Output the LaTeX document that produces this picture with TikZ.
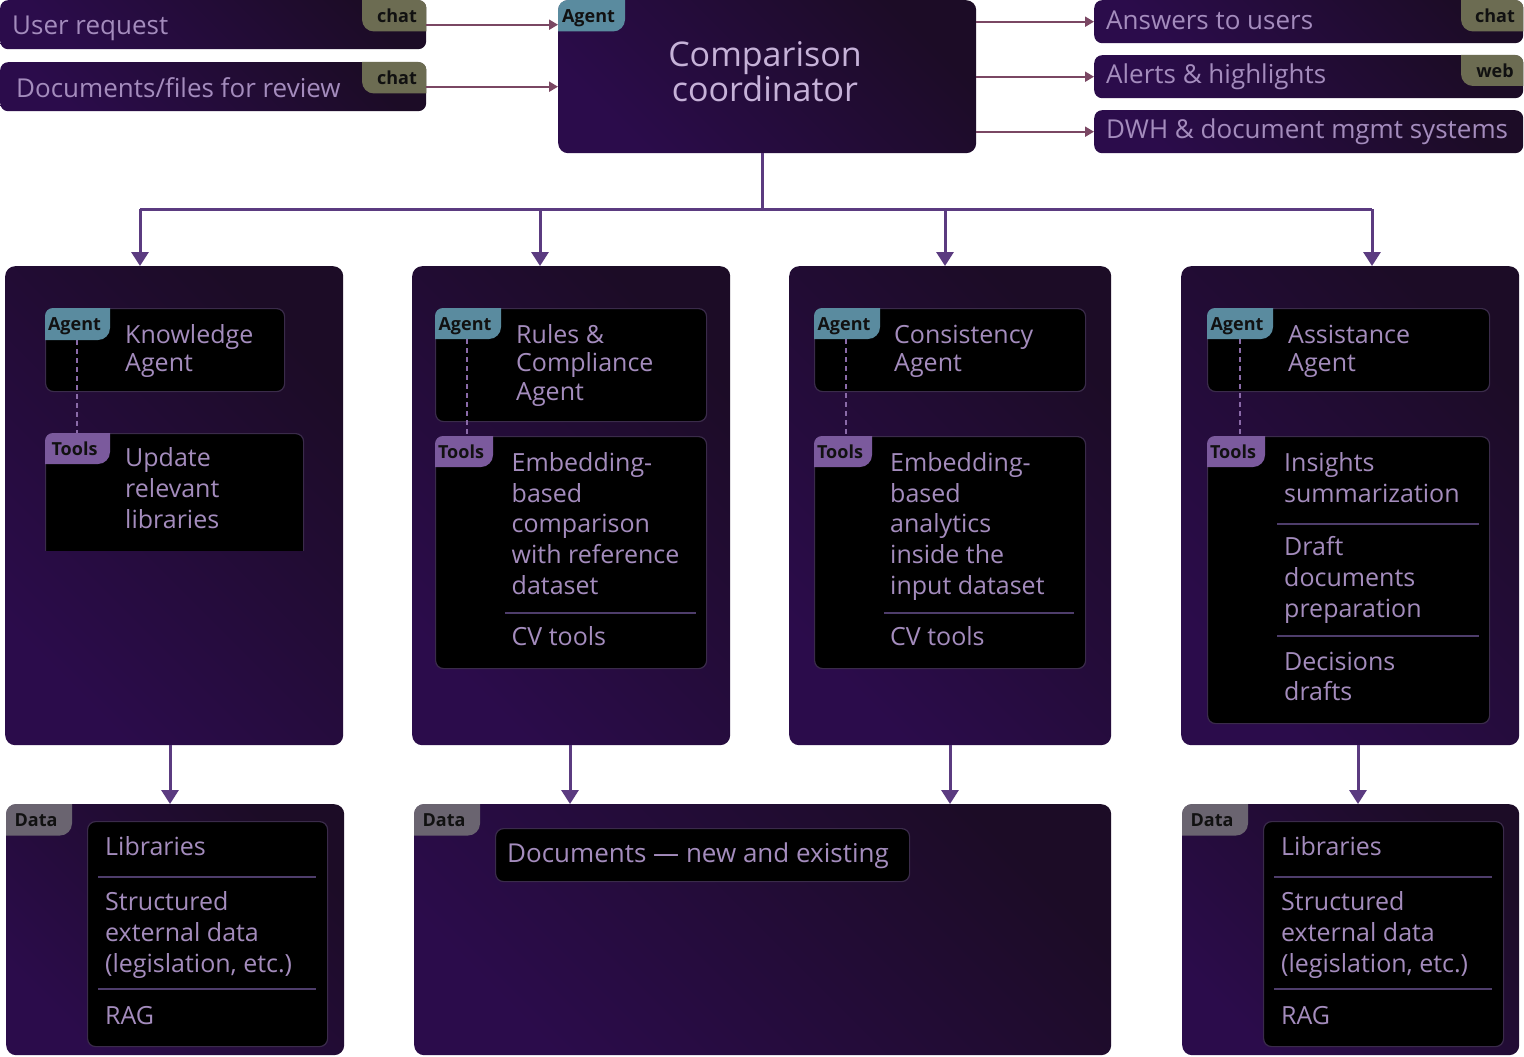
\documentclass[tikz,border=0pt]{standalone}
\usepackage{fontspec}
\setmainfont{Open Sans}
\usetikzlibrary{arrows.meta}
\definecolor{boxA}{HTML}{2B0C4B}
\definecolor{boxB}{HTML}{1C0C26}
\definecolor{txt}{HTML}{A48CBD}
\definecolor{txtlight}{HTML}{C6B2D8}
\definecolor{agentc}{HTML}{5A8B9F}
\definecolor{toolsc}{HTML}{7B5A9D}
\definecolor{chatc}{HTML}{6C6C52}
\definecolor{datac}{HTML}{6A6470}
\definecolor{ioarrowc}{HTML}{7A4763}
\definecolor{treec}{HTML}{5B3B80}
\definecolor{innerborder}{HTML}{3A2B4A}
\definecolor{sepc}{HTML}{4E3D6B}
\definecolor{dashc}{HTML}{8A6AA8}
\definecolor{tagtextc}{HTML}{111111}

\newcommand\mkbox[6]{\node[#6, anchor=north west, minimum width={(#4)-(#2)}, minimum height={(#5)-(#3)}] (#1) at (#2,#3) {};}
% NW tag: parent, radius, x0, y0, x1, y1, colour, text, name
\newcommand\tagnw[9]{%
  \begin{scope}
    \clip[rounded corners=#2] (#1.north west) rectangle (#1.south east);
    \fill[#7, rounded corners=12pt] ({#3-30},{#4-30}) rectangle (#5,#6);
  \end{scope}
  \node[tagtxt] (#9) at ({(#3+#5)/2-3},{#4+22.5}) {#8};}
% NE tag
\newcommand\tagne[9]{%
  \begin{scope}
    \clip[rounded corners=#2] (#1.north west) rectangle (#1.south east);
    \fill[#7, rounded corners=12pt] (#3,{#4-30}) rectangle ({#5+30},#6);
  \end{scope}
  \node[tagtxt] (#9) at ({(#3+#5)/2+3},{#4+22.5}) {#8};}

\tikzset{
  panel/.style={rounded corners=10pt, left color=boxA, right color=boxB, shading angle=135},
  iobox/.style={rounded corners=8pt, left color=boxA, right color=boxB, shading angle=135},
  inbox/.style={rounded corners=8pt, fill=black, draw=innerborder, line width=1.2pt},
  tagtxt/.style={anchor=base, inner sep=0pt, text=tagtextc, font=\fontsize{18}{20}\selectfont\bfseries},
  iotxt/.style={anchor=base west, inner sep=0pt, text=txt, font=\fontsize{26}{30}\selectfont},
  bodyA/.style={anchor=base west, inner sep=0pt, text=txt, align=left, font=\fontsize{25}{28.4}\selectfont},
  bodyT/.style={anchor=base west, inner sep=0pt, text=txt, align=left, font=\fontsize{25}{30.6}\selectfont},
  coordtxt/.style={anchor=base, inner sep=0pt, text=txtlight, align=center, font=\fontsize{34}{35}\selectfont},
  ioarr/.style={draw=ioarrowc, line width=2pt, -{Triangle[width=10pt,length=9pt]}},
  treeline/.style={draw=treec, line width=3pt},
  treearr/.style={draw=treec, line width=3pt, -{Triangle[width=17pt,length=14pt]}},
  dashl/.style={draw=dashc, line width=1.5pt, dash pattern=on 5pt off 4pt},
  sepl/.style={draw=sepc, line width=2pt},
}

\begin{document}
\begin{tikzpicture}[x=1pt, y=-1pt]
\useasboundingbox (0,0) rectangle (1524,1057);
\fill[white] (0,0) rectangle (1524,1057);

% (multi-line nodes: the base anchor is the baseline of the last line)

% ---------- inputs ----------
\mkbox{in1}{0}{0}{426}{49}{iobox}
\tagne{in1}{8pt}{362}{0}{426}{31.5}{chatc}{chat}{in1tag}
\node[iotxt] (in1t) at (12,35) {User request};
\mkbox{in2}{0}{62}{426}{111}{iobox}
\tagne{in2}{8pt}{362}{62}{426}{93.5}{chatc}{chat}{in2tag}
\node[iotxt] (in2t) at (16,97.3) {Documents/files for review};

% ---------- coordinator ----------
\mkbox{coord}{558}{0}{976}{153}{panel}
\tagnw{coord}{10pt}{558}{0}{625}{31.5}{agentc}{Agent}{coordtag}
\node[coordtxt] (coordt) at (765,101.7) {Comparison\\coordinator};

% ---------- outputs ----------
\mkbox{out1}{1094}{0}{1523}{43}{iobox}
\tagne{out1}{8pt}{1461}{0}{1523}{31.5}{chatc}{chat}{out1tag}
\node[iotxt] (out1t) at (1106,29.3) {Answers to users};
\mkbox{out2}{1094}{55}{1523}{98}{iobox}
\tagne{out2}{8pt}{1461}{55}{1523}{86}{chatc}{web}{out2tag}
\node[iotxt] (out2t) at (1106,84) {Alerts \& highlights};
\mkbox{out3}{1094}{110}{1523}{153}{iobox}
\node[iotxt] (out3t) at (1106,139) {DWH \& document mgmt systems};

\draw[ioarr] (in1.east) -- (in1.east -| coord.west);
\draw[ioarr] (in2.east) -- (in2.east -| coord.west);
\draw[ioarr] (coord.east |- out1.west) -- (out1.west);
\draw[ioarr] (coord.east |- out2.west) -- (out2.west);
\draw[ioarr] (coord.east |- out3.west) -- (out3.west);

% ---------- agent panels ----------
\mkbox{p1}{5}{266}{343}{745}{panel}
\mkbox{p2}{412}{266}{730}{745}{panel}
\mkbox{p3}{789}{266}{1111}{745}{panel}
\mkbox{p4}{1181}{266}{1519}{745}{panel}

% tree
\coordinate (bus) at (762,209);
\coordinate (b1) at (140,209);
\coordinate (b2) at (540,209);
\coordinate (b3) at (945,209);
\coordinate (b4) at (1372,209);
\draw[treeline] (bus |- coord.south) -- (bus);
\draw[treeline] (b1) -- (b4);
\draw[treearr] (b1) -- (b1 |- p1.north);
\draw[treearr] (b2) -- (b2 |- p2.north);
\draw[treearr] (b3) -- (b3 |- p3.north);
\draw[treearr] (b4) -- (b4 |- p4.north);

% panel 1
\mkbox{a1}{45}{308}{284}{391}{inbox}
\begin{scope}
  \clip (0,0) rectangle (1524,550);
  \mkbox{t1}{45}{433}{303}{570}{inbox}
\end{scope}
\coordinate (dk1) at (77,340);
\draw[dashl] (dk1) -- (dk1 |- t1.north);
\tagnw{a1}{8pt}{45}{308}{110}{340}{agentc}{Agent}{a1tag}
\tagnw{t1}{8pt}{45}{433}{110}{464}{toolsc}{Tools}{t1tag}
\node[bodyA] (a1t) at (125,371.7) {Knowledge\\Agent};
\node[bodyT, font=\fontsize{25}{31}\selectfont] (t1t) at (125,528.7) {Update\\relevant\\libraries};

% panel 2
\mkbox{a2}{435}{308}{706}{421}{inbox}
\mkbox{t2}{435}{436}{706}{668}{inbox}
\coordinate (dk2) at (467,339);
\draw[dashl] (dk2) -- (dk2 |- t2.north);
\tagnw{a2}{8pt}{435}{308}{501}{339}{agentc}{Agent}{a2tag}
\tagnw{t2}{8pt}{435}{436}{493}{467}{toolsc}{Tools}{t2tag}
\node[bodyA] (a2t) at (516,400.1) {Rules \&\\Compliance\\Agent};
\node[bodyT] (t2t) at (511.5,594.1) {Embedding-\\based\\comparison\\with reference\\dataset};
\draw[sepl] (505,613.3) -- (696,613.3);
\node[bodyT] (t2cv) at (511.5,645) {CV tools};

% panel 3
\mkbox{a3}{814}{308}{1085}{391}{inbox}
\mkbox{t3}{814}{436}{1085}{668}{inbox}
\coordinate (dk3) at (846,339);
\draw[dashl] (dk3) -- (dk3 |- t3.north);
\tagnw{a3}{8pt}{814}{308}{880}{339}{agentc}{Agent}{a3tag}
\tagnw{t3}{8pt}{814}{436}{872}{467}{toolsc}{Tools}{t3tag}
\node[bodyA] (a3t) at (894,371.7) {Consistency\\Agent};
\node[bodyT] (t3t) at (890,594.1) {Embedding-\\based\\analytics\\inside the\\input dataset};
\draw[sepl] (884,613.3) -- (1074,613.3);
\node[bodyT] (t3cv) at (890,645) {CV tools};

% panel 4
\mkbox{a4}{1207}{308}{1489}{391}{inbox}
\mkbox{t4}{1207}{436}{1489}{723}{inbox}
\coordinate (dk4) at (1240,339);
\draw[dashl] (dk4) -- (dk4 |- t4.north);
\tagnw{a4}{8pt}{1207}{308}{1273}{339}{agentc}{Agent}{a4tag}
\tagnw{t4}{8pt}{1207}{436}{1265}{467}{toolsc}{Tools}{t4tag}
\node[bodyA] (a4t) at (1288,371.7) {Assistance\\Agent};
\node[bodyT, font=\fontsize{25}{31}\selectfont] (t4ta) at (1284,502.7) {Insights\\summarization};
\draw[sepl] (1277,524) -- (1479,524);
\node[bodyT, font=\fontsize{25}{31}\selectfont] (t4tb) at (1284,617) {Draft\\documents\\preparation};
\draw[sepl] (1277,636) -- (1479,636);
\node[bodyT, font=\fontsize{25}{30}\selectfont] (t4tc) at (1284,700) {Decisions\\drafts};

% ---------- data panels ----------
\mkbox{d1}{6}{804}{344}{1055}{panel}
\mkbox{d2}{414}{804}{1111}{1055}{panel}
\mkbox{d3}{1182}{804}{1519}{1055}{panel}
\tagnw{d1}{10pt}{6}{804}{72}{835.5}{datac}{Data}{d1tag}
\tagnw{d2}{10pt}{414}{804}{480}{835.5}{datac}{Data}{d2tag}
\tagnw{d3}{10pt}{1182}{804}{1248}{835.5}{datac}{Data}{d3tag}

\mkbox{di1}{87}{821}{327}{1046}{inbox}
\node[bodyT] (di1a) at (105,855) {Libraries};
\draw[sepl] (98,877.3) -- (316,877.3);
\node[bodyT, font=\fontsize{25}{31}\selectfont] (di1b) at (105,972) {Structured\\external data\\(legislation, etc.)};
\draw[sepl] (98,989.3) -- (316,989.3);
\node[bodyT] (di1c) at (105,1024) {RAG};

\mkbox{di2}{495}{828}{909}{881}{inbox}
\node[bodyT, font=\fontsize{26}{30}\selectfont] (di2a) at (507,862.7) {Documents — new and existing};

\mkbox{di3}{1263}{821}{1503}{1046}{inbox}
\node[bodyT] (di3a) at (1281,855) {Libraries};
\draw[sepl] (1274,877.3) -- (1492,877.3);
\node[bodyT, font=\fontsize{25}{31}\selectfont] (di3b) at (1281,972) {Structured\\external data\\(legislation, etc.)};
\draw[sepl] (1274,989.3) -- (1492,989.3);
\node[bodyT] (di3c) at (1281,1024) {RAG};

% down arrows
\coordinate (c1) at (170,0);
\coordinate (c2) at (570,0);
\coordinate (c3) at (950,0);
\coordinate (c4) at (1358,0);
\draw[treearr] (c1 |- p1.south) -- (c1 |- d1.north);
\draw[treearr] (c2 |- p2.south) -- (c2 |- d2.north);
\draw[treearr] (c3 |- p3.south) -- (c3 |- d2.north);
\draw[treearr] (c4 |- p4.south) -- (c4 |- d3.north);
\end{tikzpicture}
\end{document}
